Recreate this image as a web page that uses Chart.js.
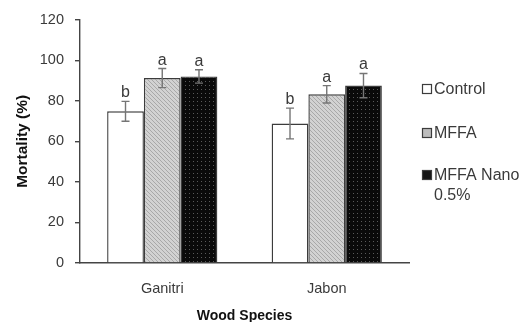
<!DOCTYPE html>
<html>
<head>
<meta charset="utf-8">
<script src="https://cdn.jsdelivr.net/npm/chart.js@4.4.1/dist/chart.umd.min.js"></script>
<style>
  html, body { margin: 0; padding: 0; background: #fff; }
  #wrap { width: 523px; height: 322px; position: relative; }
</style>
</head>
<body>
<div id="wrap"><canvas id="c"></canvas></div>
<script>
// Wood species tested
const categories = ['Ganitri', 'Jabon'];

// Mean mortality (%) and error (±) per treatment
const controlValues = [74.8, 68.8];
const controlErrors = [4.9, 7.6];
const mffaValues = [91.2, 83.2];
const mffaErrors = [4.7, 4.3];
const nanoValues = [92.0, 87.5];
const nanoErrors = [3.3, 6.0];

// Significance letters above each bar
const controlLetters = ['b', 'b'];
const mffaLetters = ['a', 'a'];
const nanoLetters = ['a', 'a'];

// Treatment names (legend)
const seriesNames = ['Control', 'MFFA', ['MFFA Nano', '0.5%']];

// Y axis ticks
const yTicks = [0, 20, 40, 60, 80, 100, 120];

const FONT = "'Liberation Sans', Arial, sans-serif";
const TEXT = '#3a3a3a';

// Fill patterns: hatched light grey and dotted black
function hatchPattern() {
  const p = document.createElement('canvas');
  p.width = 4; p.height = 4;
  const g = p.getContext('2d');
  g.fillStyle = '#d2d2d2';
  g.fillRect(0, 0, 4, 4);
  g.fillStyle = '#a8a8a8';
  for (let i = 0; i < 4; i++) g.fillRect(i, i, 1, 1);
  return g.createPattern(p, 'repeat');
}
function dotPattern() {
  const p = document.createElement('canvas');
  p.width = 4; p.height = 4;
  const g = p.getContext('2d');
  g.fillStyle = '#0a0a0a';
  g.fillRect(0, 0, 4, 4);
  g.fillStyle = '#5a5a5a';
  g.fillRect(1, 1, 1, 1);
  return g.createPattern(p, 'repeat');
}

const ctx = document.getElementById('c').getContext('2d');
const fills = ['#ffffff', hatchPattern(), dotPattern()];
const legendSwatch = ['#ffffff', '#bdbdbd', '#151515'];

const datasets = [
  { label: 'Control', data: controlValues, errors: controlErrors, letters: controlLetters },
  { label: 'MFFA', data: mffaValues, errors: mffaErrors, letters: mffaLetters },
  { label: 'MFFA Nano 0.5%', data: nanoValues, errors: nanoErrors, letters: nanoLetters }
].map((d, i) => Object.assign(d, {
  backgroundColor: fills[i],
  borderColor: '#3c3c3c',
  borderWidth: 1.4,
  categoryPercentage: 0.67,
  barPercentage: 1.0
}));

// Error bars and letters drawn from the bar elements
const errorBars = {
  id: 'errorBars',
  afterDatasetsDraw(chart) {
    const c = chart.ctx;
    const y = chart.scales.y;
    chart.data.datasets.forEach((ds, di) => {
      const meta = chart.getDatasetMeta(di);
      meta.data.forEach((bar, i) => {
        const v = ds.data[i], e = ds.errors[i];
        const yHi = y.getPixelForValue(v + e);
        const yLo = y.getPixelForValue(v - e);
        const x = bar.x;
        c.save();
        c.strokeStyle = '#757575';
        c.lineWidth = 1.4;
        c.beginPath();
        c.moveTo(x, yHi); c.lineTo(x, yLo);
        c.moveTo(x - 4, yHi); c.lineTo(x + 4, yHi);
        c.moveTo(x - 4, yLo); c.lineTo(x + 4, yLo);
        c.stroke();
        c.fillStyle = TEXT;
        c.font = '16px ' + FONT;
        c.textAlign = 'center';
        c.textBaseline = 'alphabetic';
        c.fillText(ds.letters[i], x, yHi - 4);
        c.restore();
      });
    });
  }
};

// Legend at the right, with wrapped label
const sideLegend = {
  id: 'sideLegend',
  afterDraw(chart) {
    const c = chart.ctx;
    const rows = [89, 133, 175];
    c.save();
    c.font = '16px ' + FONT;
    c.textBaseline = 'middle';
    c.textAlign = 'left';
    seriesNames.forEach((name, i) => {
      const cy = rows[i];
      c.fillStyle = legendSwatch[i];
      c.fillRect(422.5, cy - 4.5, 9, 9);
      c.strokeStyle = '#3c3c3c';
      c.lineWidth = 1.2;
      c.strokeRect(422.5, cy - 4.5, 9, 9);
      c.fillStyle = TEXT;
      const lines = Array.isArray(name) ? name : [name];
      lines.forEach((t, k) => c.fillText(t, 434, cy + 1 + k * 20));
    });
    c.restore();
  }
};

new Chart(ctx, {
  type: 'bar',
  data: { labels: categories, datasets },
  plugins: [errorBars, sideLegend],
  options: {
    responsive: true,
    maintainAspectRatio: false,
    animation: false,
    layout: { padding: { left: 0, right: 114, top: 7, bottom: 0 } },
    plugins: { legend: { display: false }, tooltip: { enabled: false } },
    scales: {
      x: {
        grid: { display: false, drawTicks: false },
        border: { display: true, color: '#444', width: 1.4 },
        ticks: { color: TEXT, font: { family: FONT, size: 14.5 }, padding: 17 },
        title: { display: true, text: 'Wood Species', color: '#111', font: { family: FONT, size: 14, weight: 'bold' }, padding: { top: -3, bottom: -3 } },
        afterFit(s) { s.height = 59; }
      },
      y: {
        min: 0, max: 120,
        afterBuildTicks(s) { s.ticks = yTicks.map(v => ({ value: v })); },
        grid: { drawOnChartArea: false, drawTicks: true, tickLength: 5, color: '#444', lineWidth: 1.4 },
        border: { display: true, color: '#444', width: 1.4 },
        ticks: { color: TEXT, font: { family: FONT, size: 14.5 }, padding: 11 },
        title: { display: true, text: 'Mortality (%)', color: '#111', font: { family: FONT, size: 15.5, weight: 'bold' }, padding: { top: 13, bottom: 13 } },
        afterFit(s) { s.width = 80; }
      }
    }
  }
});
</script>
</body>
</html>
